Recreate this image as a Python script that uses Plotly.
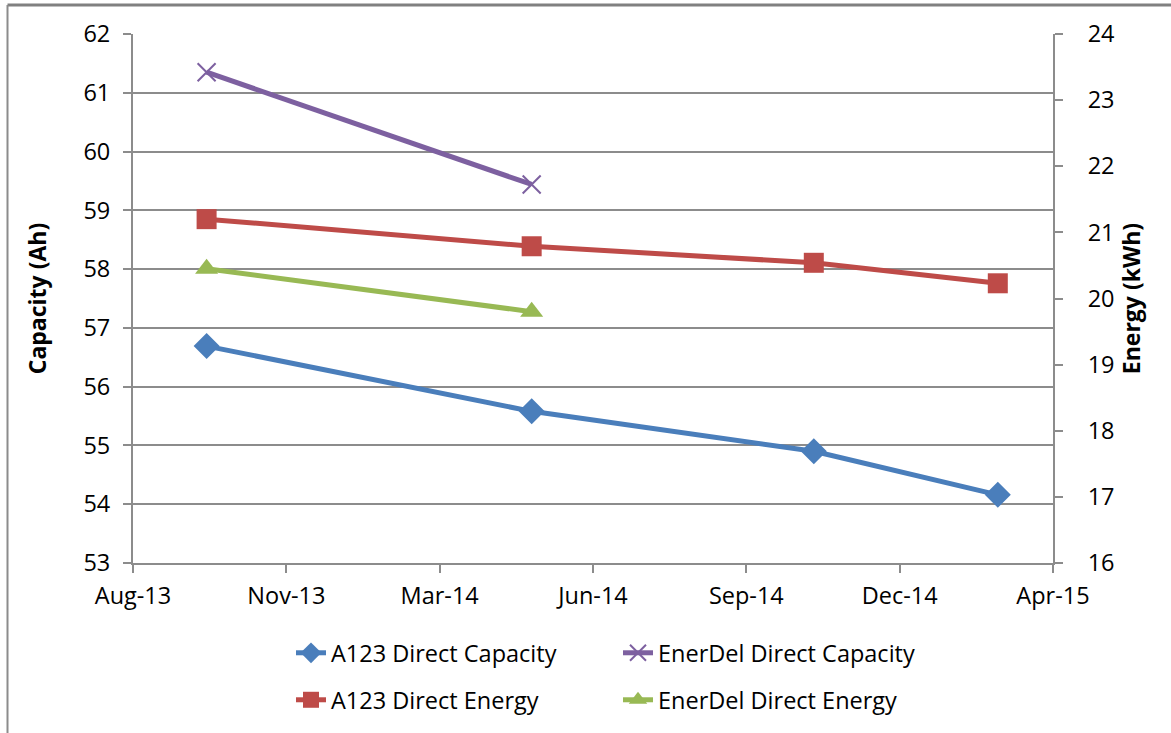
import plotly.graph_objects as go

# ---- data ----
a123_dates = ["2013-09-30", "2014-04-30", "2014-10-31", "2015-02-28"]
a123_capacity = [56.69, 55.58, 54.90, 54.16]
a123_energy = [21.20, 20.79, 20.54, 20.23]

enerdel_dates = ["2013-09-30", "2014-04-30"]
enerdel_capacity = [61.35, 59.44]
enerdel_energy = [20.45, 19.80]

x_tick_dates = ["2013-08-13", "2013-11-21", "2014-03-01", "2014-06-09",
                "2014-09-17", "2014-12-26", "2015-04-05"]
x_tick_labels = ["Aug-13", "Nov-13", "Mar-14", "Jun-14", "Sep-14", "Dec-14", "Apr-15"]

BLUE = "#4a7ebb"
RED = "#be4b48"
PURPLE = "#7d60a0"
GREEN = "#98b954"
GRID = "#8c8c8c"
FONT = "Open Sans"
FS = 23.5

fig = go.Figure()

fig.add_trace(go.Scatter(
    x=a123_dates, y=a123_capacity, name="A123 Direct Capacity", mode="lines+markers",
    line=dict(color=BLUE, width=5), marker=dict(symbol="diamond", size=20, color=BLUE),
    legend="legend"))
fig.add_trace(go.Scatter(
    x=enerdel_dates, y=enerdel_capacity, name="EnerDel Direct Capacity", mode="lines+markers",
    line=dict(color=PURPLE, width=5),
    marker=dict(symbol="x-thin", size=18, color=PURPLE, line=dict(color=PURPLE, width=2)),
    legend="legend"))
fig.add_trace(go.Scatter(
    x=a123_dates, y=a123_energy, name="A123 Direct Energy", mode="lines+markers",
    line=dict(color=RED, width=5), marker=dict(symbol="square", size=20, color=RED),
    yaxis="y2", legend="legend2"))
fig.add_trace(go.Scatter(
    x=enerdel_dates, y=enerdel_energy, name="EnerDel Direct Energy", mode="lines+markers",
    line=dict(color=GREEN, width=5), marker=dict(symbol="triangle-up", size=20, color=GREEN),
    yaxis="y2", legend="legend2"))

L, R, T, B = 133, 118, 34, 170
W, H = 1171, 733
pw = W - L - R
ph = H - T - B

fig.update_layout(
    width=W, height=H,
    margin=dict(l=L, r=R, t=T, b=B, autoexpand=False),
    paper_bgcolor="white", plot_bgcolor="white",
    font=dict(family=FONT, size=FS, color="black"),
    xaxis=dict(
        type="date", range=[x_tick_dates[0], x_tick_dates[-1]],
        tickvals=x_tick_dates, ticktext=x_tick_labels,
        showgrid=False, showline=True, linecolor=GRID, linewidth=2,
        ticks="outside", ticklen=8, tickcolor=GRID, tickwidth=2,
        ticklabelstandoff=3, zeroline=False,
    ),
    yaxis=dict(
        range=[53, 62], dtick=1, tick0=53,
        showgrid=True, gridcolor=GRID, gridwidth=1.5,
        showline=True, linecolor=GRID, linewidth=2,
        ticks="outside", ticklen=8, tickcolor=GRID, tickwidth=2,
        ticklabelstandoff=8, zeroline=False,
        title=dict(text="<b>Capacity (Ah)</b>", font=dict(size=23), standoff=30),
    ),
    yaxis2=dict(
        range=[16, 24], dtick=1, tick0=16, overlaying="y", side="right",
        showgrid=False, showline=True, linecolor=GRID, linewidth=2,
        ticks="outside", ticklen=8, tickcolor=GRID, tickwidth=2,
        ticklabelstandoff=20, zeroline=False,
        title=dict(text="<b>Energy (kWh)</b>", font=dict(size=23), standoff=2),
    ),
    legend=dict(
        orientation="h", x=(291 - L) / pw, xanchor="left",
        y=(H - B - 653) / ph, yanchor="middle",
        entrywidth=282, entrywidthmode="pixels",
        font=dict(size=FS), bgcolor="rgba(0,0,0,0)",
    ),
    legend2=dict(
        orientation="h", x=(291 - L) / pw, xanchor="left",
        y=(H - B - 700) / ph, yanchor="middle",
        entrywidth=282, entrywidthmode="pixels",
        font=dict(size=FS), bgcolor="rgba(0,0,0,0)",
    ),
    showlegend=True,
)

# outer chart border (top and left edges visible in the frame)
fig.add_shape(type="line", xref="paper", yref="paper",
              x0=(7.5 - L) / pw, x1=(W - L) / pw,
              y0=(H - B - 5) / ph, y1=(H - B - 5) / ph,
              line=dict(color="#808080", width=3), layer="above")
fig.add_shape(type="line", xref="paper", yref="paper",
              x0=(7.5 - L) / pw, x1=(7.5 - L) / pw,
              y0=(H - B - H) / ph, y1=(H - B - 5) / ph,
              line=dict(color=GRID, width=2), layer="above")

fig.write_html("out.html", config={"displayModeBar": False},
               post_script="document.body.style.margin='0';document.body.style.overflow='hidden';")
